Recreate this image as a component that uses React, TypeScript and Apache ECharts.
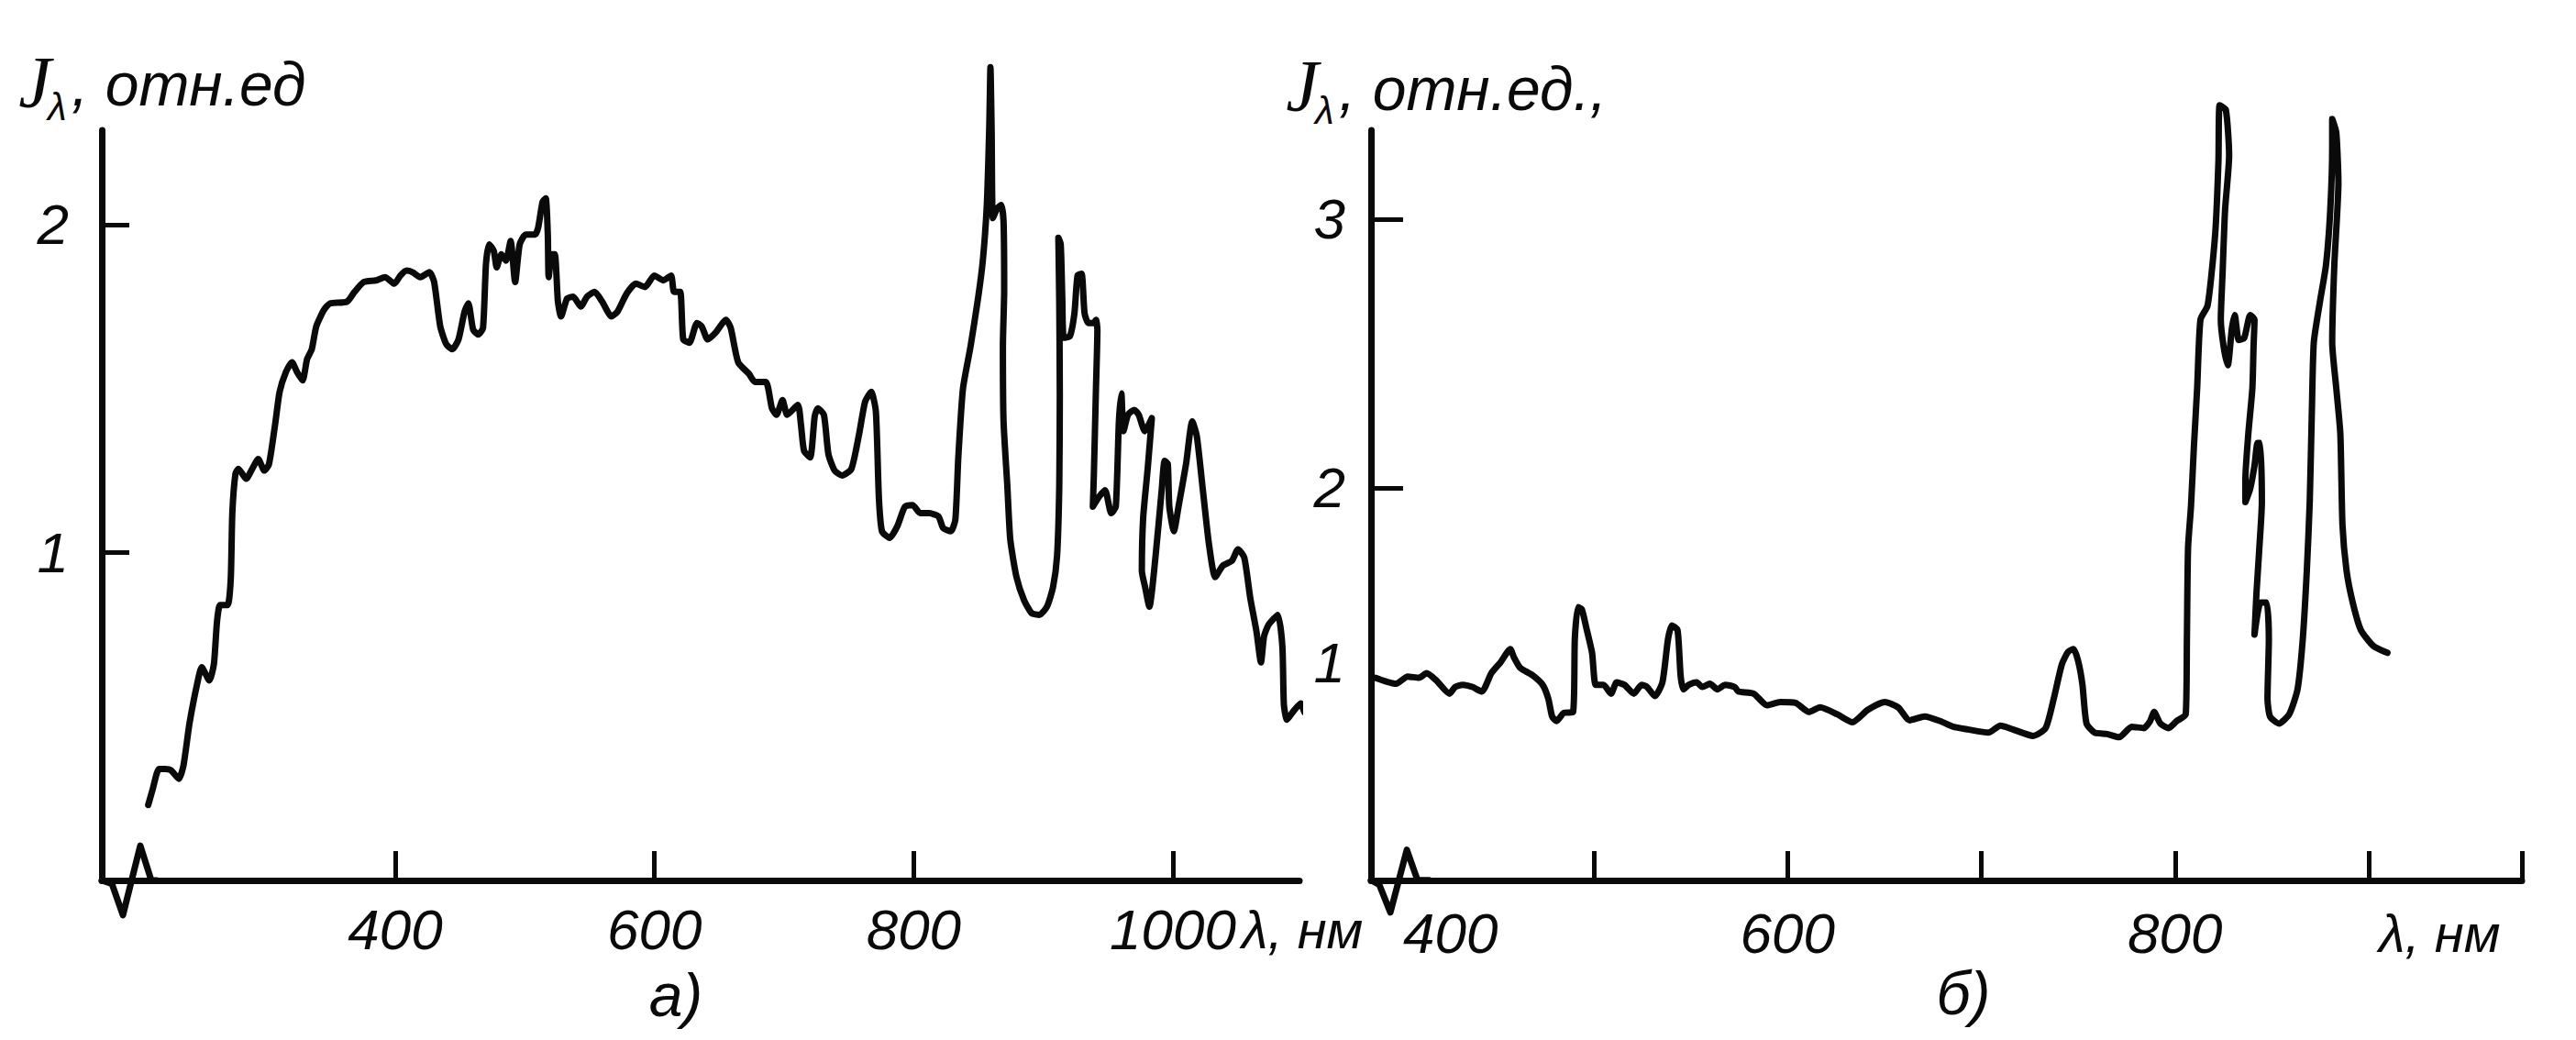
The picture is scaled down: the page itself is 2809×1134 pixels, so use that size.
import React, { useEffect, useRef } from "react";
import * as echarts from "echarts";

// ---------- Panel а) ----------
const aWave = [
  209.4, 213, 217.7, 222.4, 227, 233, 236.6, 241.3, 247.2, 250.7, 256.6, 260.1, 262.5, 264.9, 270.7, 273.1, 274.3, 276.7,
  279, 285, 289.6, 294.3, 299, 302.6, 307.3, 310.8, 315.6, 320.3, 324.3, 328.5, 332, 335.6, 339.1, 345, 349.8, 362.7,
  368.6, 375.7, 385.1, 392.2, 399.3, 404, 408.7, 413.4, 419.3, 426.4, 430, 434.7, 439.4, 444.1, 448.8, 453.5, 456.4,
  460.1, 464.1, 467.7, 470, 472.4, 476, 478.3, 481.9, 485.4, 489, 492.5, 496, 500.7, 507.8, 510.2, 513.7, 516.1, 517.7,
  518.4, 520.8, 523.1, 525.5, 527.9, 532.6, 537.3, 543.2, 547.9, 553.8, 559.7, 566.8, 571.5, 578.6, 585.6, 592.7,
  599.8, 606.9, 612.8, 615.1, 619.8, 622.2, 626.9, 632.8, 636.4, 641.1, 647, 655.2, 658.8, 664.6, 672.9, 677.6, 685.9,
  690.6, 694.1, 698.8, 702.4, 710.6, 713, 715.4, 720.1, 723.6, 726, 730.7, 734.2, 739, 744.8, 751.9, 757.8, 762.5,
  767.2, 770.8, 773.1, 775.5, 781.4, 787.3, 793.2, 799.1, 805, 812, 819.1, 822.7, 828.6, 832.1, 834.4, 838, 843.9,
  849.8, 853.3, 856.4, 858.3, 859.2, 860.1, 861.1, 864.4, 867.5, 869.3, 869.8, 868.8, 869.3, 872.2, 874.5, 879.3,
  885.1, 891, 896.9, 902.8, 907.5, 910.6, 912.3, 912.7, 912.3, 911.6, 913.4, 914.6, 915.8, 920.5, 924, 926.4, 929.5,
  931.8, 934.7, 938.9, 940.6, 941.7, 940.6, 939, 938.2, 943, 947.6, 952.4, 955.9, 958.3, 960.2, 961.8, 965.3, 970.1,
  973.6, 978.3, 983.7, 980.5, 977, 976, 978.5, 981.8, 986.6, 991.3, 993.6, 996, 997.2, 1000.7, 1004.3, 1010.1, 1014.9,
  1018.4, 1023.1, 1027.8, 1032.6, 1038.5, 1045.5, 1050.2, 1055, 1059.7, 1064.4, 1067.9, 1070.3, 1073.8, 1080.9,
  1084.4, 1085.6, 1088, 1092.7, 1098.6, 1102.1, 1106.8, 1111.6, 1115.8,
];
const aIntensity = [
  0.23, 0.28, 0.34, 0.34, 0.336, 0.31, 0.35, 0.48, 0.6, 0.65, 0.61, 0.66, 0.79, 0.84, 0.84, 0.92, 1.12, 1.24,
  1.255, 1.225, 1.255, 1.285, 1.25, 1.27, 1.39, 1.49, 1.55, 1.58, 1.55, 1.525, 1.59, 1.62, 1.69, 1.74, 1.76, 1.765,
  1.795, 1.825, 1.83, 1.84, 1.82, 1.845, 1.86, 1.855, 1.84, 1.855, 1.825, 1.69, 1.635, 1.62, 1.65, 1.735, 1.76,
  1.68, 1.665, 1.685, 1.88, 1.94, 1.92, 1.87, 1.91, 1.89, 1.95, 1.825, 1.94, 1.97, 1.97, 1.99, 2.07, 2.08, 1.97,
  1.84, 1.91, 1.91, 1.765, 1.72, 1.775, 1.78, 1.75, 1.78, 1.795, 1.765, 1.72, 1.735, 1.79, 1.82, 1.81,
  1.845, 1.83, 1.845, 1.795, 1.795, 1.65, 1.64, 1.7, 1.69, 1.65, 1.67, 1.71, 1.685, 1.58, 1.545, 1.52, 1.52,
  1.44, 1.42, 1.465, 1.42, 1.45, 1.39, 1.31, 1.29, 1.415, 1.44, 1.42, 1.3, 1.25, 1.235, 1.255, 1.36, 1.46,
  1.49, 1.43, 1.17, 1.065, 1.045, 1.08, 1.14, 1.145, 1.12, 1.12, 1.11, 1.075, 1.065, 1.1, 1.29, 1.5, 1.63,
  1.78, 1.89, 2.06, 2.3, 2.48, 2.29, 2.02, 2.05, 2.06, 2.01, 1.8, 1.63, 1.4, 1.205, 1.04, 0.925,
  0.855, 0.815, 0.81, 0.835, 0.895, 0.99, 1.205, 1.485, 1.76, 1.96, 1.94, 1.78, 1.655, 1.66, 1.73, 1.845, 1.85,
  1.73, 1.7, 1.7, 1.71, 1.68, 1.5, 1.24, 1.14, 1.17, 1.19, 1.12, 1.14, 1.4, 1.485, 1.37, 1.42, 1.435,
  1.42, 1.37, 1.41, 1.255, 1.105, 0.945, 0.895, 0.835, 0.99, 1.19, 1.28, 1.27, 1.14, 1.065, 1.14, 1.27, 1.4,
  1.355, 1.19, 1.025, 0.925, 0.96, 0.975, 1.01, 0.985, 0.86, 0.76, 0.665, 0.745, 0.78, 0.81,
  0.715, 0.535, 0.49, 0.515, 0.54, 0.51, 0.515, 0.5, 0.465,
];
// pen trace at the start of the zero line
const aZeroWave = [173.6, 181.4, 189.9, 203.3, 211.8, 216];
const aZeroValue = [0, -0.01, -0.106, 0.106, 0, 0];

const aXTicks = [400, 600, 800, 1000];
const aYTicks = [1, 2];

// ---------- Panel б) ----------
const bWave = [
  385.5, 387.2, 392.1, 398, 403.9, 409.8, 413.7, 418.6, 425.5, 428.4, 432.3, 437.3, 442.2, 447.1, 452, 456.9, 458.8,
  461.8, 464.7, 468.7, 473.6, 476.5, 478.5, 480.8, 484.4, 489.3, 490.2, 491.8, 493.8, 496.1, 499.1, 501, 505, 508.9,
  511.8, 515.8, 520.7, 524.6, 527.5, 531.5, 535.4, 538.3, 540.3, 543.2, 544.8, 546.2, 549.1, 553.1, 556, 559.9, 563.8,
  567.8, 572.7, 574.6, 582.5, 589.4, 596.2, 604.1, 611, 616.8, 625.7, 633.5, 641.4, 650.2, 657.1, 663, 670.8, 678.7,
  685.5, 693, 703.6, 709.9, 716.3, 726.8, 733.2, 737.4, 741.6, 744.8, 747.6, 750.1, 752.2, 754.3, 758.5, 764.9, 771.2,
  777.6, 783.9, 787.1, 789.2, 792.4, 796.6, 800.8, 805.5, 806.1, 806.7, 808.2, 809.7, 811.4, 813.1, 816.7, 818.8,
  820.9, 822.4, 823, 826.2, 827.9, 825.8, 824.5, 823.6, 825.1, 827.2, 829.3, 830.8, 832.9, 835.7, 838.8, 841, 840.5,
  839.9, 837.8, 836.3, 836.3, 838.8, 841, 842.6, 844.1, 844.8, 843.5, 842, 841, 844.1, 847.3, 848.4, 847.7, 849,
  853.6, 858.9, 863.2, 865.9, 868, 869.5, 870.6, 871.6, 874.8, 877.9, 880.1, 881.1, 881.1, 883.2, 884.3, 882.2, 881.1,
  883.2, 885.3, 886.4, 888.5, 891.7, 895.9, 902.3, 909.6,
];
const bIntensity = [
  1.295, 1.293, 1.281, 1.271, 1.298, 1.293, 1.31, 1.284, 1.234, 1.259, 1.267, 1.259, 1.242, 1.31, 1.352, 1.4, 1.369,
  1.332, 1.318, 1.301, 1.267, 1.216, 1.149, 1.132, 1.162, 1.166, 1.437, 1.556, 1.548, 1.48, 1.386, 1.267, 1.267, 1.234,
  1.276, 1.267, 1.234, 1.267, 1.259, 1.225, 1.276, 1.437, 1.488, 1.471, 1.301, 1.25, 1.267, 1.276, 1.259, 1.271, 1.25,
  1.267, 1.259, 1.242, 1.234, 1.191, 1.203, 1.2, 1.166, 1.183, 1.157, 1.128, 1.174, 1.203, 1.183, 1.135, 1.149, 1.132,
  1.111, 1.101, 1.089, 1.115, 1.101, 1.077, 1.106, 1.216, 1.344, 1.39, 1.4, 1.352, 1.267, 1.123, 1.089, 1.084, 1.072,
  1.111, 1.106, 1.132, 1.166, 1.123, 1.106, 1.132, 1.157, 1.437, 1.777, 1.93, 2.15, 2.371, 2.626, 2.677, 2.796,
  2.966, 3.22, 3.424, 3.407, 3.237, 3.034, 2.796, 2.626, 2.524, 2.456, 2.592, 2.643, 2.55, 2.558, 2.643, 2.626, 2.524,
  2.371, 2.201, 2.032, 1.947, 1.998, 2.083, 2.167, 2.167, 1.947, 1.777, 1.607, 1.454, 1.573, 1.573, 1.437, 1.216, 1.149,
  1.123, 1.157, 1.25, 1.437, 1.692, 1.947, 2.286, 2.541, 2.694, 2.83, 3.034, 3.271, 3.373, 3.322, 3.135, 2.83, 2.541,
  2.371, 2.201, 1.862, 1.692, 1.573, 1.471, 1.412, 1.386,
];
const bZeroWave = [385, 389.3, 395, 403.5, 409, 415];
const bZeroValue = [0.54, 0.523, 0.42, 0.653, 0.54, 0.54];

const bXTicks = [500, 600, 700, 800, 900, 979];
const bXLabels = [400, 600, 800];
const bYTicks = [2, 3];
const bYLabels = [1.35, 2, 3]; // the "1" sits next to the start of the curve

const INK = "#0a0a0a";
const FONT = "'Liberation Sans Narrow', 'Liberation Sans', Arial, sans-serif";
const SERIF = "'Liberation Serif', 'DejaVu Serif', serif";

const zip = (xs: number[], ys: number[]) => xs.map((x, i) => [x, ys[i]]);

const labelStyle = {
  color: INK,
  fontSize: 62,
  fontStyle: "italic" as const,
  fontFamily: FONT,
};

export default function App() {
  const ref = useRef<HTMLDivElement>(null);

  useEffect(() => {
    if (!ref.current) return;
    const chart = echarts.init(ref.current, undefined, { renderer: "svg" });

    const axisLine = { show: true, onZero: false, lineStyle: { color: INK, width: 7 } };
    const tickStyle = { color: INK, width: 5 };
    const curveStyle = { color: INK, width: 7, join: "round", cap: "round" };

    const option: any = {
      animation: false,
      backgroundColor: "#ffffff",
      grid: [
        { left: 111, top: 142, width: 1306, height: 818 },
        { left: 1495, top: 142, width: 1255, height: 818 },
      ],
      xAxis: [
        {
          gridIndex: 0,
          type: "value",
          min: 173.6,
          max: 1097.6,
          axisLine,
          splitLine: { show: false },
          axisTick: { show: true, inside: true, length: 32, customValues: aXTicks, lineStyle: tickStyle },
          axisLabel: { ...labelStyle, margin: 22, customValues: aXTicks, formatter: (v: number) => String(v) },
          name: "λ, нм",
          nameLocation: "end",
          nameGap: -86,
          nameTextStyle: { ...labelStyle, fontSize: 58, align: "left", verticalAlign: "top", padding: [24, 0, 0, 0] },
        },
        {
          gridIndex: 1,
          type: "value",
          min: 385,
          max: 979,
          axisLine,
          splitLine: { show: false },
          axisTick: { show: true, inside: true, length: 32, customValues: bXTicks, lineStyle: tickStyle },
          axisLabel: {
            ...labelStyle,
            margin: 26,
            customValues: bXLabels,
            formatter: (v: number) => (v === 400 ? "{s|400}" : String(v)),
            rich: { s: { ...labelStyle, padding: [0, 0, 0, 110] } },
          },
          name: "λ, нм",
          nameLocation: "end",
          nameGap: -156,
          nameTextStyle: { ...labelStyle, fontSize: 58, align: "left", verticalAlign: "top", padding: [28, 0, 0, 0] },
        },
      ],
      yAxis: [
        {
          gridIndex: 0,
          type: "value",
          min: 0,
          max: 2.288,
          axisLine,
          splitLine: { show: false },
          axisTick: { show: true, inside: true, length: 30, customValues: aYTicks, lineStyle: tickStyle },
          axisLabel: { ...labelStyle, margin: 36, customValues: aYTicks },
        },
        {
          gridIndex: 1,
          type: "value",
          min: 0.539,
          max: 3.331,
          axisLine,
          splitLine: { show: false },
          axisTick: { show: true, inside: true, length: 35, customValues: bYTicks, lineStyle: tickStyle },
          axisLabel: {
            ...labelStyle,
            margin: 28,
            customValues: bYLabels,
            formatter: (v: number) => (v < 1.5 ? "1" : String(v)),
          },
        },
      ],
      series: [
        {
          type: "line",
          xAxisIndex: 0,
          yAxisIndex: 0,
          data: zip(aWave, aIntensity),
          showSymbol: false,
          smooth: 0.2,
          clip: false,
          lineStyle: curveStyle,
        },
        {
          type: "line",
          xAxisIndex: 0,
          yAxisIndex: 0,
          data: zip(aZeroWave, aZeroValue),
          showSymbol: false,
          clip: false,
          lineStyle: curveStyle,
        },
        {
          type: "line",
          xAxisIndex: 1,
          yAxisIndex: 1,
          data: zip(bWave, bIntensity),
          showSymbol: false,
          smooth: 0.2,
          clip: false,
          lineStyle: curveStyle,
        },
        {
          type: "line",
          xAxisIndex: 1,
          yAxisIndex: 1,
          data: zip(bZeroWave, bZeroValue),
          showSymbol: false,
          clip: false,
          lineStyle: curveStyle,
        },
      ],
      graphic: [
        // panel а) y title
        { type: "text", x: 38, y: 90, style: { text: "J", fontSize: 80, fontStyle: "italic", fontFamily: SERIF, fill: INK, align: "center", verticalAlign: "middle" } },
        { type: "text", x: 52, y: 116, style: { text: "λ", fontSize: 42, fontStyle: "italic", fontFamily: FONT, fill: INK, align: "left", verticalAlign: "middle" } },
        { type: "text", x: 78, y: 92, style: { text: ", отн.ед", fontSize: 66, fontStyle: "italic", fontFamily: FONT, fill: INK, align: "left", verticalAlign: "middle" } },
        // panel б) y title
        { type: "text", x: 1420, y: 94, style: { text: "J", fontSize: 80, fontStyle: "italic", fontFamily: SERIF, fill: INK, align: "center", verticalAlign: "middle" } },
        { type: "text", x: 1434, y: 120, style: { text: "λ", fontSize: 42, fontStyle: "italic", fontFamily: FONT, fill: INK, align: "left", verticalAlign: "middle" } },
        { type: "text", x: 1460, y: 97, style: { text: ", отн.ед.,", fontSize: 66, fontStyle: "italic", fontFamily: FONT, fill: INK, align: "left", verticalAlign: "middle" } },
        // captions
        { type: "text", x: 737, y: 1085, style: { text: "а)", fontSize: 66, fontStyle: "italic", fontFamily: FONT, fill: INK, align: "center", verticalAlign: "middle" } },
        { type: "text", x: 2141, y: 1083, style: { text: "б)", fontSize: 66, fontStyle: "italic", fontFamily: FONT, fill: INK, align: "center", verticalAlign: "middle" } },
      ],
    };

    chart.setOption(option);
    return () => chart.dispose();
  }, []);

  return (
    <div
      ref={ref}
      style={{ position: "absolute", left: 0, top: 0, width: 2809, height: 1134, background: "#fff" }}
    />
  );
}
